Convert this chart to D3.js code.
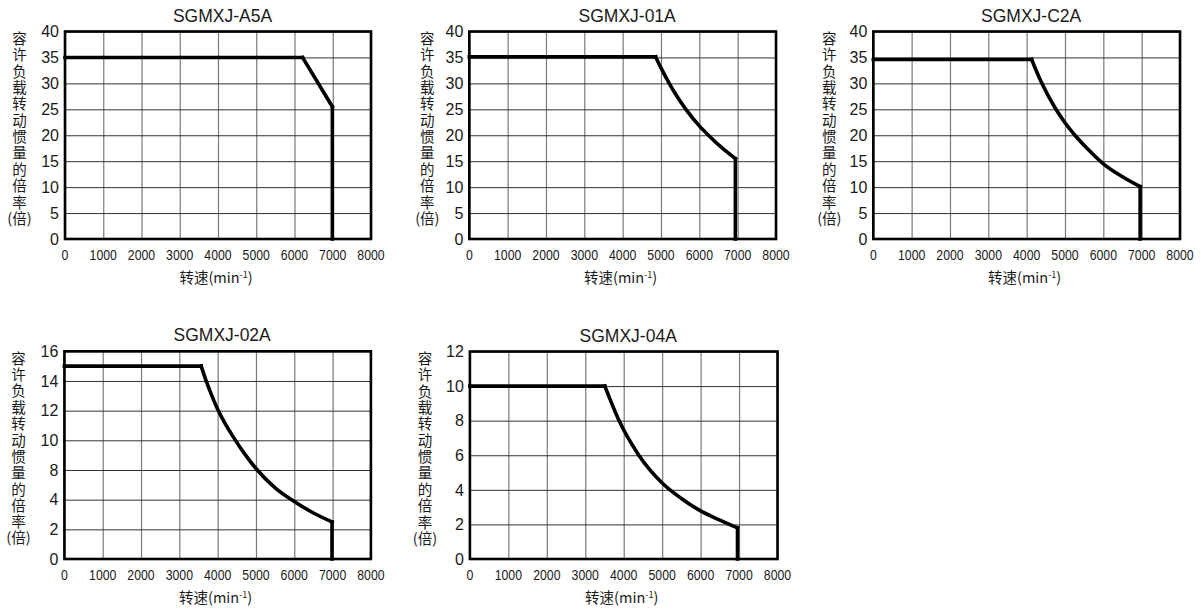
<!DOCTYPE html>
<html>
<head>
<meta charset="utf-8">
<script src="https://cdn.jsdelivr.net/npm/d3@7"></script>
<style>
  html, body { margin: 0; padding: 0; background: #fff; }
  svg { display: block; }
  text { font-family: "Liberation Sans", Arial, sans-serif; fill: #1a1a1a; }
  .cjk { font-family: "Noto Sans CJK SC", sans-serif; }
</style>
</head>
<body>
<script>
// ---------------- data ----------------
const titles = ["SGMXJ-A5A", "SGMXJ-01A", "SGMXJ-C2A", "SGMXJ-02A", "SGMXJ-04A"];
const xTicks = [0, 1000, 2000, 3000, 4000, 5000, 6000, 7000, 8000];
const yTicks40 = [0, 5, 10, 15, 20, 25, 30, 35, 40];
const yTicks02A = [0, 2, 4, 8, 10, 12, 14, 16];   // as printed (no "6")
const yTicks04A = [0, 2, 4, 6, 8, 10, 12];
const yTitle = "容许负载转动惯量的倍率";
const yUnit = "(倍)";
const xTitle = "转速(min";
const xTitleSup = "-1";

// speed (min^-1), allowable load inertia ratio
const seriesA5A = [[0, 35], [6210, 35], [6990, 25.5], [6990, 0]];
const series01A = [[0, 35.1], [4860, 35.1], [5000, 33], [5200, 30.2], [5400, 27.7], [5650, 25], [6000, 21.8], [6250, 19.9], [6600, 17.5], [6940, 15.5], [6940, 0]];
const seriesC2A = [[0, 34.6], [4130, 34.6], [4390, 30.1], [4740, 25.3], [5000, 22.4], [5260, 20], [5600, 17.3], [6000, 14.5], [6500, 12], [6960, 10.1], [6960, 0]];
const series02A = [[0, 15], [3570, 15], [3700, 14], [3850, 13], [4000, 12.1], [4200, 11.1], [4414, 10.2], [4700, 9.1], [5000, 8.1], [5500, 5.6], [6000, 3.88], [6500, 3.1], [6985, 2.5], [6985, 0]];
const series04A = [[0, 10], [3510, 10], [3860, 8.1], [4380, 6.05], [5000, 4.4], [5500, 3.5], [6000, 2.78], [6500, 2.25], [6960, 1.8], [6960, 0]];

// ---------------- layout ----------------
const W = 1201, H = 610;
const panels = [
  { title: titles[0], data: seriesA5A, yTicks: yTicks40, left: 65,    right: 371,   top: 31.5,  bottom: 239, yl: -45.5 },
  { title: titles[1], data: series01A, yTicks: yTicks40, left: 469.3, right: 776,   top: 31.5,  bottom: 239, yl: -42 },
  { title: titles[2], data: seriesC2A, yTicks: yTicks40, left: 873.3, right: 1180,  top: 31.5,  bottom: 239, yl: -44 },
  { title: titles[3], data: series02A, yTicks: yTicks02A, left: 64.4, right: 370.9, top: 351.3, bottom: 559, yl: -46 },
  { title: titles[4], data: series04A, yTicks: yTicks04A, left: 469.9, right: 777.5, top: 351.5, bottom: 559, yl: -45 }
];

const svg = d3.select("body").append("svg").attr("width", W).attr("height", H);
svg.append("rect").attr("width", W).attr("height", H).attr("fill", "#fff");

panels.forEach(p => {
  const w = p.right - p.left, h = p.bottom - p.top;
  const x = d3.scaleLinear().domain([0, 8000]).range([p.left, p.right]);
  const n = p.yTicks.length - 1;
  const y = d3.scaleLinear()
    .domain(p.yTicks)
    .range(p.yTicks.map((d, i) => p.bottom - i * h / n));

  const g = svg.append("g");

  // vertical grid
  g.append("g")
    .attr("transform", `translate(0,${p.bottom})`)
    .call(d3.axisBottom(x).tickValues(xTicks).tickSize(-h).tickFormat(""))
    .call(s => s.select(".domain").remove())
    .call(s => s.selectAll("line").attr("stroke", "#7a7a7a").attr("stroke-width", 1.2));

  // horizontal grid
  g.append("g")
    .attr("transform", `translate(${p.left},0)`)
    .call(d3.axisLeft(y).tickValues(p.yTicks).tickSize(-w).tickFormat(""))
    .call(s => s.select(".domain").remove())
    .call(s => s.selectAll("line").attr("stroke", "#333").attr("stroke-width", 1));

  // frame
  g.append("rect")
    .attr("x", p.left).attr("y", p.top).attr("width", w).attr("height", h)
    .attr("fill", "none").attr("stroke", "#000").attr("stroke-width", 2.6);

  // y tick labels
  g.selectAll(".yt").data(p.yTicks).join("text")
    .attr("x", p.left - 6).attr("y", d => y(d)).attr("dy", "0.36em")
    .attr("text-anchor", "end").attr("font-size", 16)
    .text(d => d);

  // x tick labels
  g.selectAll(".xt").data(xTicks).join("text")
    .attr("transform", d => `translate(${x(d)},${p.bottom + 20.5}) scale(0.82,1)`)
    .attr("text-anchor", "middle").attr("font-size", 15)
    .text(d => d);

  // title
  g.append("text")
    .attr("x", (p.left + p.right) / 2 + 4.5).attr("y", p.top - 10)
    .attr("text-anchor", "middle").attr("font-size", 17.5)
    .text(p.title);

  // y axis title (vertical)
  const cx = p.left + p.yl;
  g.append("text")
    .attr("class", "cjk")
    .attr("x", cx).attr("y", p.top - 0.3)
    .attr("font-size", 14.5)
    .style("writing-mode", "vertical-rl")
    .style("letter-spacing", "1.86px")
    .text(yTitle);
  g.append("text")
    .attr("class", "cjk")
    .attr("x", cx).attr("y", p.top + 7 + 11 * 16.36).attr("dy", "0.36em")
    .attr("text-anchor", "middle").attr("font-size", 14.5)
    .text(yUnit);

  // x axis title
  const xt = g.append("text").attr("class", "cjk")
    .attr("x", (p.left + p.right) / 2 - 2).attr("y", p.bottom + 44)
    .attr("text-anchor", "middle").attr("font-size", 14.5);
  xt.append("tspan").text(xTitle);
  xt.append("tspan").attr("font-size", 9).attr("dy", -5).text(xTitleSup);
  xt.append("tspan").attr("dy", 5).text(")");

  // data line: flat (linear) + curve (monotone) + drop (linear)
  const d = p.data;
  const lin = d3.line().x(v => x(v[0])).y(v => y(v[1]));
  const smooth = d3.line().x(v => x(v[0])).y(v => y(v[1])).curve(d3.curveMonotoneX);
  const segs = [
    { pts: d.slice(0, 2), gen: lin },
    { pts: d.slice(1, d.length - 1), gen: smooth },
    { pts: d.slice(d.length - 2), gen: lin }
  ];
  segs.forEach(s => {
    g.append("path").attr("d", s.gen(s.pts))
      .attr("fill", "none").attr("stroke", "#000")
      .attr("stroke-width", 3.6).attr("stroke-linejoin", "round").attr("stroke-linecap", "square");
  });
});
</script>
</body>
</html>
